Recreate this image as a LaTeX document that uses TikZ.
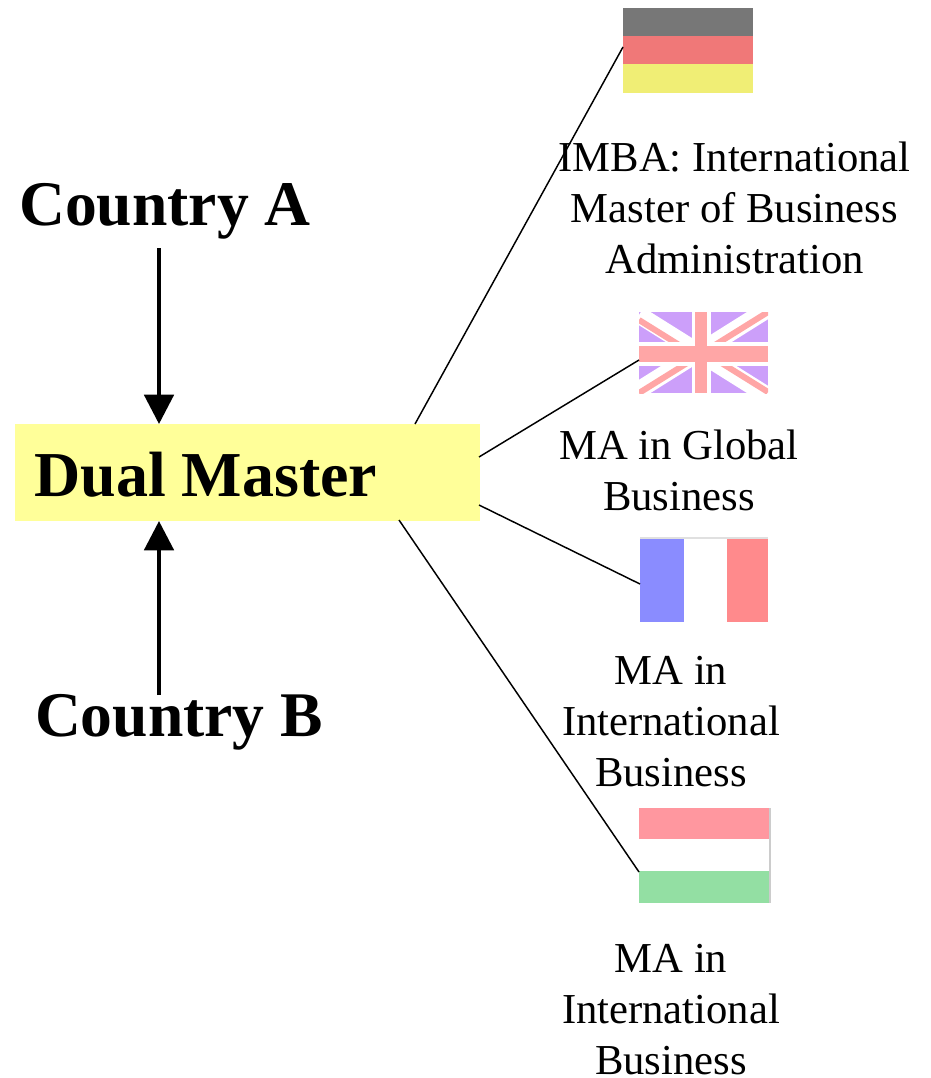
\documentclass[tikz,border=0pt]{standalone}
\usepackage{fontspec}
\setmainfont{Liberation Serif}
\usetikzlibrary{arrows.meta}
\definecolor{boxy}{HTML}{FFFF99}
\definecolor{degray}{HTML}{777777}
\definecolor{dered}{HTML}{F07878}
\definecolor{deyel}{HTML}{F0EE75}
\definecolor{ukpur}{HTML}{CC9FFA}
\definecolor{ukred}{HTML}{FFA6A6}
\definecolor{frblue}{HTML}{8A8CFF}
\definecolor{frred}{HTML}{FF8A8C}
\definecolor{hured}{HTML}{FF979F}
\definecolor{hugreen}{HTML}{93DFA3}
\definecolor{edgegray}{HTML}{CCCCCC}
\tikzset{
  x=0.75pt,y=-0.75pt,
  prog/.style={align=center,inner sep=0pt,font=\fontsize{32}{38.25}\selectfont},
  head/.style={inner sep=0pt,font=\fontsize{47.7}{56}\selectfont\bfseries},
  thick arrow/.style={line width=3pt,-{Triangle[length=22pt,width=22pt]}},
  link/.style={line width=1.1pt,black},
}
\begin{document}
\begin{tikzpicture}
\useasboundingbox (0,0) rectangle (931,1078);
% centre box
\node[fill=boxy,minimum width=348.5pt,minimum height=72.75pt,inner sep=0pt,anchor=north west] (box) at (15,424) {};
\node[head,font=\fontsize{48}{56}\selectfont\bfseries,anchor=base west] (dual) at (34,496) {Dual Master};
% headings
\node[head,anchor=base] (ca) at (165,225) {Country A};
\node[head,anchor=base] (cb) at (179,736) {Country B};
% arrows
\coordinate (caend) at (159,248);
\coordinate (cbend) at (159,695);
\coordinate (boxtop) at (159,424);
\coordinate (boxbot) at (159,521);
\draw[thick arrow] (caend) -- (boxtop);
\draw[thick arrow] (cbend) -- (boxbot);
% German flag
\fill[degray] (623,8) rectangle (753,36);
\fill[dered] (623,36) rectangle (753,64);
\fill[deyel] (623,64) rectangle (753,93);
% UK flag
\begin{scope}
\clip (639,312) rectangle (768,393);
\fill[ukpur] (639,312) rectangle (768,393);
\draw[white,line width=13pt] (639,315) -- (768,396);
\draw[white,line width=13pt] (639,390) -- (768,309);
\draw[ukred,line width=4.5pt] (639,320) -- (692,353);
\draw[ukred,line width=4.5pt] (715,359) -- (768,392);
\draw[ukred,line width=4.5pt] (639,393) -- (692,360);
\draw[ukred,line width=4.5pt] (715,345) -- (768,312);
\fill[white] (692,312) rectangle (711,393);
\fill[white] (639,342) rectangle (768,366);
\fill[ukred] (695,312) rectangle (707,393);
\fill[ukred] (639,346) rectangle (768,362);
\end{scope}
% French flag
\fill[edgegray!60] (640,537) rectangle (768,539);
\fill[frblue] (640,539) rectangle (684,622);
\fill[white] (684,539) rectangle (727,622);
\fill[frred] (727,539) rectangle (768,622);
% Hungarian flag
\fill[hured] (639,808) rectangle (770,839);
\fill[white] (639,839) rectangle (770,871);
\fill[hugreen] (639,871) rectangle (770,903);
\draw[edgegray,line width=0.8pt] (770,808) -- (770,903);
% flag anchors
\coordinate (deflag) at (623,47);
\coordinate (ukflag) at (639,360);
\coordinate (frflag) at (640,584);
\coordinate (huflag) at (639,872);
\coordinate (boxa) at (415,424);
\coordinate (boxb) at (479,457);
\coordinate (boxc) at (479,505);
\coordinate (boxd) at (399,520);
\draw[link] (boxa) -- (deflag);
\draw[link] (boxb) -- (ukflag);
\draw[link] (boxc) -- (frflag);
\draw[link] (boxd) -- (huflag);
% programme labels
\node[prog,anchor=base] (p1) at (734.5,273) {IMBA: International\\Master of Business\\Administration};
\node[prog,anchor=base] (p2) at (679,510) {MA in Global\\Business};
\node[prog,anchor=base] (p3) at (671,786) {MA in\\International\\Business};
\node[prog,anchor=base] (p4) at (671,1074) {MA in\\International\\Business};
\end{tikzpicture}
\end{document}
